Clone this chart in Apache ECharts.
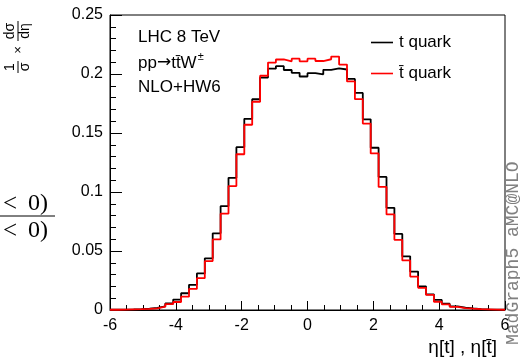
<!DOCTYPE html>
<html><head><meta charset="utf-8">
<script src="https://cdn.jsdelivr.net/npm/echarts@6/dist/echarts.min.js"></script>
<style>html,body{margin:0;padding:0;background:#fff}#c{width:520px;height:361px}</style>
</head><body><div id="c"></div>
<script>
// Bin edges (eta), 50 bins of width 0.24
const binEdges = [-6,-5.76,-5.52,-5.28,-5.04,-4.8,-4.56,-4.32,-4.08,-3.84,-3.6,-3.36,-3.12,-2.88,-2.64,-2.4,-2.16,-1.92,-1.68,-1.44,-1.2,-0.96,-0.72,-0.48,-0.24,0,0.24,0.48,0.72,0.96,1.2,1.44,1.68,1.92,2.16,2.4,2.64,2.88,3.12,3.36,3.6,3.84,4.08,4.32,4.56,4.8,5.04,5.28,5.52,5.76,6];
const tQuark = [0.0002,0.0003,0.0005,0.0008,0.0012,0.0017,0.0031,0.0055,0.0088,0.0142,0.0213,0.031,0.0438,0.065,0.088,0.112,0.138,0.162,0.1786,0.197,0.2045,0.2066,0.2034,0.201,0.1979,0.2007,0.1997,0.2035,0.2047,0.2038,0.1958,0.184,0.1616,0.1375,0.1128,0.0866,0.0645,0.0455,0.0326,0.0201,0.0133,0.0085,0.0054,0.0031,0.0019,0.0013,0.0008,0.0005,0.0003,0.0002];
const tbarQuark = [0.0002,0.0003,0.0005,0.0007,0.001,0.0014,0.0028,0.005,0.0068,0.0113,0.0179,0.027,0.0415,0.0598,0.0816,0.105,0.132,0.157,0.1765,0.1985,0.2097,0.2123,0.2107,0.213,0.2107,0.213,0.211,0.2125,0.2148,0.208,0.1937,0.1787,0.158,0.1327,0.1043,0.081,0.0595,0.042,0.0283,0.0188,0.0128,0.007,0.0048,0.0027,0.0016,0.0011,0.0007,0.0005,0.0003,0.0002];
const seriesNames = ['t quark', 't\u0304 quark'];
const xTicks = {min: -6, max: 6, interval: 2};
const yTicks = {min: 0, max: 0.25, interval: 0.05};

function histPoints(vals) {
  const pts = vals.map((v, i) => [binEdges[i], v]);
  pts.push([binEdges[binEdges.length - 1], vals[vals.length - 1]]);
  return pts;
}

const SANS = 'Liberation Sans';
const mctx = document.createElement('canvas').getContext('2d');
function tw(t, font) { mctx.font = font; return mctx.measureText(t).width; }
const procW = tw('pp', '17px "Liberation Sans"') + tw('→', '17px "DejaVu Sans"') + tw('tt\u0304W', '17px "Liberation Sans"');

const chart = echarts.init(document.getElementById('c'), null, {renderer: 'canvas'});
chart.setOption({
  animation: false,
  grid: {left: 110, right: 15, top: 15, bottom: 51, show: true, borderColor: '#000', borderWidth: 1, backgroundColor: 'transparent'},
  xAxis: {
    type: 'value', min: xTicks.min, max: xTicks.max, interval: xTicks.interval,
    axisLine: {onZero: false, lineStyle: {color: '#000', width: 1}},
    axisTick: {inside: true, length: 9, lineStyle: {color: '#000'}},
    minorTick: {show: true, splitNumber: 4, length: 5, lineStyle: {color: '#000'}},
    splitLine: {show: false},
    axisLabel: {color: '#000', fontFamily: SANS, fontSize: 16, margin: 8}
  },
  yAxis: {
    type: 'value', min: yTicks.min, max: yTicks.max, interval: yTicks.interval,
    axisLine: {show: true, onZero: false, lineStyle: {color: '#000', width: 1}},
    axisTick: {inside: true, length: 12, lineStyle: {color: '#000'}},
    minorTick: {show: true, splitNumber: 5, length: 6, lineStyle: {color: '#000'}},
    splitLine: {show: false},
    axisLabel: {color: '#000', fontFamily: SANS, fontSize: 16, margin: 7}
  },
  legend: {
    orient: 'vertical', left: 366, top: 29, itemWidth: 22, itemHeight: 10, itemGap: 14,
    icon: 'path://M0,0 L22,0 L22,1.6 L0,1.6 Z',
    textStyle: {fontFamily: SANS, fontSize: 17, color: '#000', padding: [0,0,0,1]},
    data: seriesNames
  },
  series: [
    {name: seriesNames[0], type: 'line', step: 'end', showSymbol: false, symbol: 'none',
     data: histPoints(tQuark), lineStyle: {color: '#000', width: 1.8}, itemStyle: {color: '#000'}, z: 2},
    {name: seriesNames[1], type: 'line', step: 'end', showSymbol: false, symbol: 'none',
     data: histPoints(tbarQuark), lineStyle: {color: '#ff0000', width: 1.8}, itemStyle: {color: '#ff0000'}, z: 3}
  ],
  graphic: [
    // y-axis title: 1/sigma x dsigma/deta, rotated
    {type: 'group', x: 18, y: 74, rotation: Math.PI / 2, children: [
      {type: 'text', x: 7, y: -1, style: {text: '1', font: '14px ' + SANS, fill: '#000', align: 'center', verticalAlign: 'bottom'}},
      {type: 'line', shape: {x1: 1, y1: 0, x2: 13, y2: 0}, style: {stroke: '#000', lineWidth: 1}},
      {type: 'text', x: 7, y: 0, style: {text: 'σ', font: '14px ' + SANS, fill: '#000', align: 'center', verticalAlign: 'top'}},
      {type: 'text', x: 24, y: 0, style: {text: '×', font: '13px ' + SANS, fill: '#000', align: 'center', verticalAlign: 'middle'}},
      {type: 'text', x: 43, y: -1, style: {text: 'dσ', font: '14px ' + SANS, fill: '#000', align: 'center', verticalAlign: 'bottom'}},
      {type: 'line', shape: {x1: 33, y1: 0, x2: 53, y2: 0}, style: {stroke: '#000', lineWidth: 1}},
      {type: 'text', x: 43, y: 0, style: {text: 'dη', font: '14px ' + SANS, fill: '#000', align: 'center', verticalAlign: 'top'}}
    ]},
    // leftover serif fraction
    {type: 'text', x: 3, y: 204, style: {text: '<', font: '25px "Liberation Serif"', fill: '#000', verticalAlign: 'middle'}},
    {type: 'text', x: 28, y: 204, style: {text: '0)', font: '24px "Liberation Serif"', fill: '#000', verticalAlign: 'middle'}},
    {type: 'line', shape: {x1: 0, y1: 216, x2: 55, y2: 216}, style: {stroke: '#000', lineWidth: 1}},
    {type: 'text', x: 3, y: 231, style: {text: '<', font: '25px "Liberation Serif"', fill: '#000', verticalAlign: 'middle'}},
    {type: 'text', x: 28, y: 231, style: {text: '0)', font: '24px "Liberation Serif"', fill: '#000', verticalAlign: 'middle'}},
    // info text
    {type: 'text', x: 138, y: 37, style: {text: 'LHC 8 TeV', font: '17px ' + SANS, fill: '#000', verticalAlign: 'middle'}},
    {type: 'text', x: 138, y: 63, style: {
      text: '{a|pp}{b|→}{a|tt\u0304W}', verticalAlign: 'middle',
      rich: {a: {fontFamily: SANS, fontSize: 17, lineHeight: 20, fill: '#000', color: '#000'},
             b: {fontFamily: 'DejaVu Sans', fontSize: 17, lineHeight: 20, fill: '#000', color: '#000'}}
    }},
    {type: 'text', x: 138 + procW + 1, y: 57, style: {text: '±', font: '11px ' + SANS, fill: '#000', verticalAlign: 'middle'}},
    {type: 'text', x: 138, y: 87, style: {text: 'NLO+HW6', font: '17px ' + SANS, fill: '#000', verticalAlign: 'middle'}},
    // x-axis title
    {type: 'text', x: 497, y: 348, style: {text: 'η[t] , η[t\u0304]', font: '19px ' + SANS, fill: '#000', align: 'right', verticalAlign: 'middle'}},
    // watermark
    {type: 'group', x: 513, y: 345, rotation: Math.PI / 2, children: [
      {type: 'text', x: 0, y: 0, style: {text: 'MadGraph5 aMC@NLO', font: '18px "Liberation Mono"', fill: '#808080', align: 'left', verticalAlign: 'middle'}}
    ]}
  ]
});
</script></body></html>
